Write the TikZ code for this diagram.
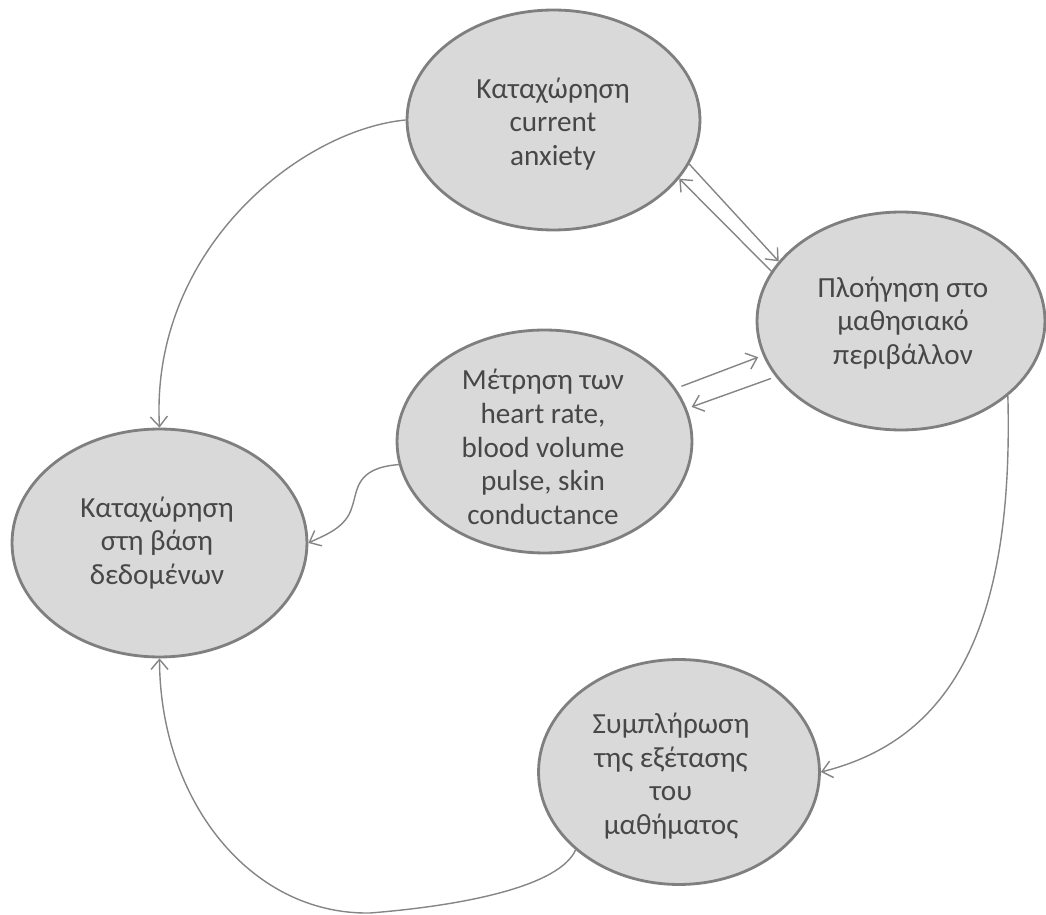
\documentclass[tikz,border=0pt]{standalone}
\usepackage{fontspec}
\setmainfont{Carlito}
\usetikzlibrary{shapes.geometric,arrows.meta}
\definecolor{fillgray}{HTML}{D9D9D9}
\definecolor{bordergray}{HTML}{7F7F7F}
\definecolor{linegray}{HTML}{858585}
\definecolor{textgray}{HTML}{474747}
\tikzset{
  state/.style={ellipse, draw=bordergray, line width=1.6pt, fill=fillgray, inner sep=0pt},
  txt/.style={text=textgray, align=center, inner sep=0pt,
    font=\fontsize{16.6}{19.2}\selectfont},
  link/.style={draw=linegray, line width=0.8pt,
    -{Straight Barb[length=2mm,width=3.4mm]}},
}
\begin{document}
\begin{tikzpicture}[x=0.02cm, y=-0.02cm]
\useasboundingbox (0,0) rectangle (1046,915);

% states
\node[state, minimum width=5.86cm, minimum height=4.40cm] (top)    at (553.5,120) {};
\node[state, minimum width=5.76cm, minimum height=4.36cm] (right)  at (901,321) {};
\node[state, minimum width=5.90cm, minimum height=4.46cm] (mid)    at (544.5,441.5) {};
\node[state, minimum width=5.90cm, minimum height=4.56cm] (left)   at (159.5,543) {};
\node[state, minimum width=5.62cm, minimum height=4.50cm] (bottom) at (679,772) {};

% labels
\node[txt] (topT)    at (553,124) {Καταχώρηση\\current\\anxiety};
\node[txt] (rightT)  at (903,323) {Πλοήγηση στο\\μαθησιακό\\περιβάλλον};
\node[txt] (midT)    at (543,447) {Μέτρηση των\\heart rate,\\blood volume\\pulse, skin\\conductance};
\node[txt] (leftT)   at (157,543) {Καταχώρηση\\στη βάση\\δεδομένων};
\node[txt] (bottomT) at (671,776) {Συμπλήρωση\\της εξέτασης\\του\\μαθήματος};

% connectors
\draw[link] (top.west) .. controls (300,130) and (150,250) .. (left.north);
\draw[link] (right.159.5) -- (top.-25.2);
\draw[link] (top.-18.7) -- (right.154.4);
\draw[link, shorten <=0.12cm, shorten >=0.1cm] (mid.22.6) -- (right.-166.9);
\draw[link, shorten <=0.1cm, shorten >=0.1cm] (right.-156.9) -- (mid.13);
\draw[link] (mid.-171.3) .. controls (355,468) and (358,490) .. (352,507)
            .. controls (346,528) and (325,535) .. (left.east);
\draw[link] (right.-35.7) .. controls (1014,630) and (950,740) .. (bottom.east);
\draw[link] (bottom.-143) .. controls (560,885) and (470,905) .. (370,913)
            .. controls (250,915) and (160,800) .. (left.south);
\end{tikzpicture}
\end{document}
